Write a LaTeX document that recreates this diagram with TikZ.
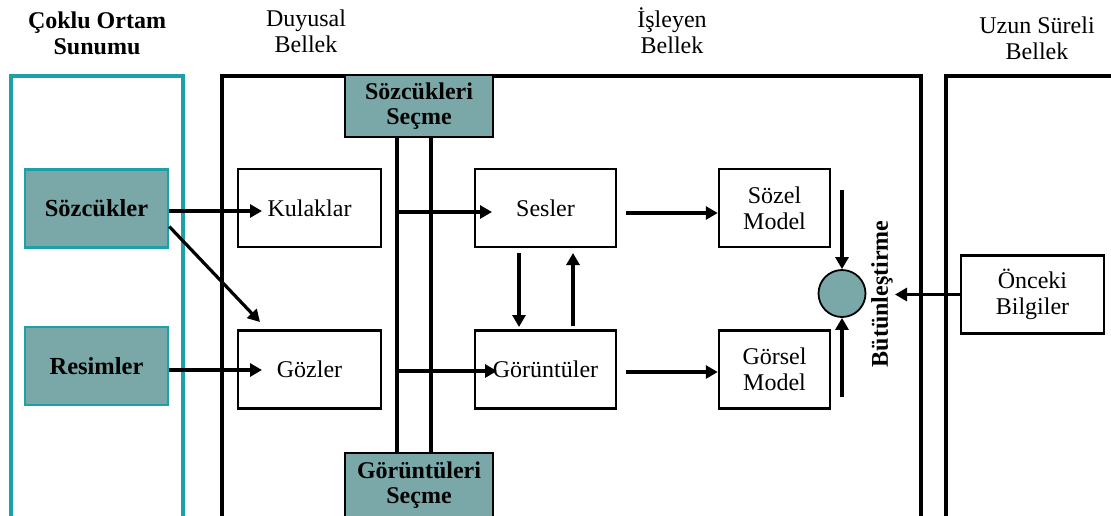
\documentclass[tikz,border=0pt]{standalone}
\usepackage{fontspec}
\setmainfont{Liberation Serif}
\usetikzlibrary{arrows.meta}
\definecolor{tealline}{RGB}{30,160,168}
\definecolor{tealfill}{RGB}{122,168,168}

\begin{document}
\begin{tikzpicture}[x=1pt,y=-1pt,
  font=\fontsize{24}{26}\selectfont,
  head/.style={align=center, inner sep=0pt},
  box/.style={draw, line width=2.5pt, minimum width=143pt, minimum height=78pt,
              inner sep=0pt, align=center},
  modelbox/.style={box, minimum width=111pt},
  srcbox/.style={box, draw=tealline, fill=tealfill, font=\fontsize{24.5}{26}\selectfont\bfseries},
  selbox/.style={draw, line width=2.8pt, fill=tealfill, minimum width=148pt,
                 inner sep=0pt, align=center, font=\fontsize{24}{25}\selectfont\bfseries},
  arr/.style={line width=3.2pt, -{Triangle[length=12pt,width=13pt]}},
  bus/.style={line width=3.5pt}
]
\useasboundingbox (0,0) rectangle (1111,515);
\fill[white] (0,0) rectangle (1111,515);
\clip (0,0) rectangle (1111,515);

% column headings
\node[head, font=\fontsize{24}{26}\selectfont\bfseries] (hmedia) at (97,33) {Çoklu Ortam\\Sunumu};
\node[head] (hsens) at (306,31) {Duyusal\\Bellek};
\node[head] (hwork) at (672,31) {İşleyen\\Bellek};
\node[head] (hlong) at (1037,38) {Uzun Süreli\\Bellek};

% memory frames
\draw[tealline, line width=3.5pt] (11,76) rectangle (183,530);
\draw[line width=3.5pt] (222,76) rectangle (921,530);
\draw[line width=3.5pt] (946,76) rectangle (1125,530);

% selection boxes and the bus between them
\node[selbox, minimum height=62pt] (selw) at (419,106) {Sözcükleri\\Seçme};
\node[selbox, minimum height=64pt] (selp) at (419,485) {Görüntüleri\\Seçme};
\coordinate (busL) at ([xshift=-22pt]selw.south);
\coordinate (busR) at ([xshift=12pt]selw.south);
\draw[bus] (busL) -- (busL |- selp.north);
\draw[bus] (busR) -- (busR |- selp.north);

% presentation
\node[srcbox] (words) at (96.5,208.5) {Sözcükler};
\node[srcbox] (pics) at (96.5,366) {Resimler};

% sensory memory
\node[box] (ears) at (309.5,208) {Kulaklar};
\node[box] (eyes) at (309.5,369.5) {Gözler};

% working memory
\node[box, minimum width=141pt] (sounds) at (545.5,208) {Sesler};
\node[box, minimum width=141pt] (images) at (545.5,369.5) {Görüntüler};
\node[modelbox] (verbal) at (774.5,208) {Sözel\\Model};
\node[modelbox] (pictorial) at (774.5,369.5) {Görsel\\Model};
\node[circle, draw, line width=1.8pt, fill=tealfill, minimum size=47pt, inner sep=0pt] (integ) at (842,293.5) {};
\node[rotate=90, font=\fontsize{24}{26}\selectfont\bfseries, inner sep=0pt] (integlbl) at (882,294) {Bütünleştirme};

% long-term memory
\node[box] (prior) at (1032.5,294.5) {Önceki\\Bilgiler};

% connectors
\draw[arr] (words.east |- 0,211) -- (262,211);
\draw[arr] ([yshift=-18pt]words.east) -- (260,322);
\draw[arr] (pics.east |- 0,370) -- (262,370);
\draw[arr] (busL |- 0,212) -- (492,212);
\draw[arr] (busL |- 0,371) -- (497,371);
\draw[arr] (519,253) -- (519,327);
\draw[arr] (573,326) -- (573,253);
\draw[arr] (626,213) -- (verbal.west |- 0,213);
\draw[arr] (626,372) -- (pictorial.west |- 0,372);
\draw[arr] (integ.north |- 0,190) -- (integ.north);
\draw[arr] (integ.south |- 0,397) -- (integ.south);
\draw[arr] (prior.west) -- (895,294.5);
\end{tikzpicture}
\end{document}
